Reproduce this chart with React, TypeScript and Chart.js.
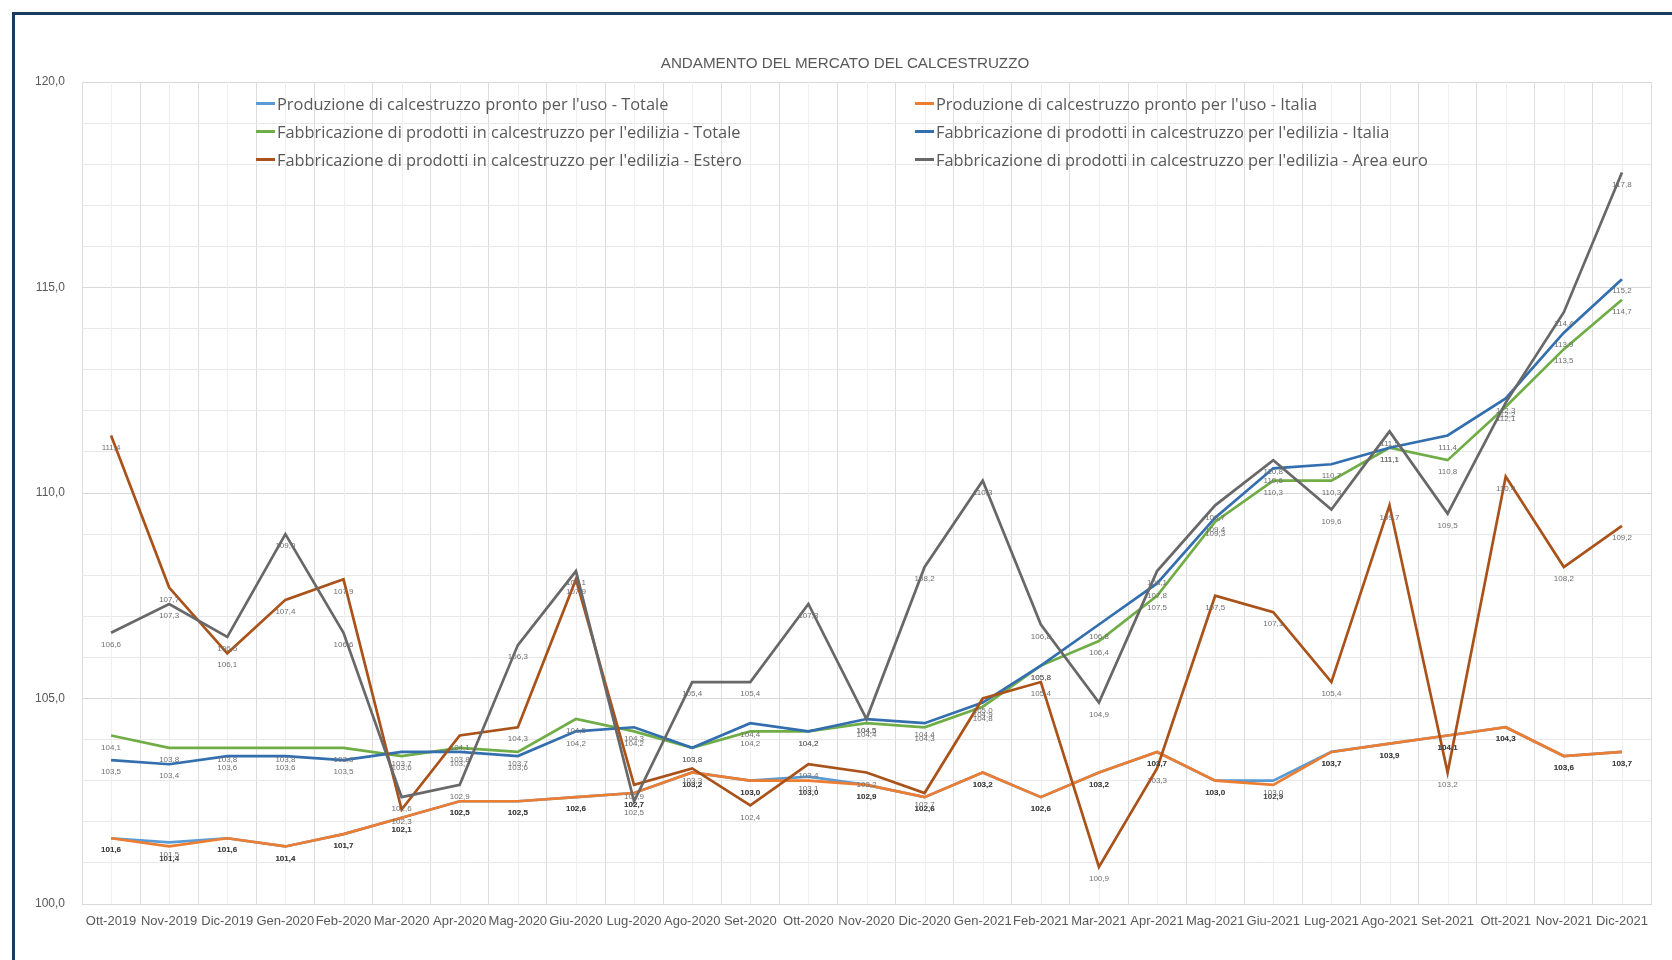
import React, { useEffect, useRef } from "react";
import { Chart, registerables } from "chart.js";

Chart.register(...registerables);

const TITLE = "ANDAMENTO DEL MERCATO DEL CALCESTRUZZO";

const CATEGORIES = [
  "Ott-2019", "Nov-2019", "Dic-2019", "Gen-2020", "Feb-2020", "Mar-2020", "Apr-2020",
  "Mag-2020", "Giu-2020", "Lug-2020", "Ago-2020", "Set-2020", "Ott-2020", "Nov-2020",
  "Dic-2020", "Gen-2021", "Feb-2021", "Mar-2021", "Apr-2021", "Mag-2021", "Giu-2021",
  "Lug-2021", "Ago-2021", "Set-2021", "Ott-2021", "Nov-2021", "Dic-2021",
];

const SERIES_NAMES = [
  "Produzione di calcestruzzo pronto per l'uso - Totale",
  "Produzione di calcestruzzo pronto per l'uso - Italia",
  "Fabbricazione di prodotti in calcestruzzo per l'edilizia - Totale",
  "Fabbricazione di prodotti in calcestruzzo per l'edilizia - Italia",
  "Fabbricazione di prodotti in calcestruzzo per l'edilizia - Estero",
  "Fabbricazione di prodotti in calcestruzzo per l'edilizia - Area euro",
];

const PRONTO_TOTALE = [
  101.6, 101.5, 101.6, 101.4, 101.7, 102.1, 102.5, 102.5, 102.6, 102.7, 103.2, 103.0, 103.1, 102.9,
  102.6, 103.2, 102.6, 103.2, 103.7, 103.0, 103.0, 103.7, 103.9, 104.1, 104.3, 103.6, 103.7,
];
const PRONTO_ITALIA = [
  101.6, 101.4, 101.6, 101.4, 101.7, 102.1, 102.5, 102.5, 102.6, 102.7, 103.2, 103.0, 103.0, 102.9,
  102.6, 103.2, 102.6, 103.2, 103.7, 103.0, 102.9, 103.7, 103.9, 104.1, 104.3, 103.6, 103.7,
];
const FABBR_TOTALE = [
  104.1, 103.8, 103.8, 103.8, 103.8, 103.6, 103.8, 103.7, 104.5, 104.2, 103.8, 104.2, 104.2, 104.4,
  104.3, 104.8, 105.8, 106.4, 107.5, 109.3, 110.3, 110.3, 111.1, 110.8, 112.1, 113.5, 114.7,
];
const FABBR_ITALIA = [
  103.5, 103.4, 103.6, 103.6, 103.5, 103.7, 103.7, 103.6, 104.2, 104.3, 103.8, 104.4, 104.2, 104.5,
  104.4, 104.9, 105.8, 106.8, 107.8, 109.4, 110.6, 110.7, 111.1, 111.4, 112.3, 113.9, 115.2,
];
const FABBR_ESTERO = [
  111.4, 107.7, 106.1, 107.4, 107.9, 102.3, 104.1, 104.3, 107.9, 102.9, 103.3, 102.4, 103.4, 103.2,
  102.7, 105.0, 105.4, 100.9, 103.3, 107.5, 107.1, 105.4, 109.7, 103.2, 110.4, 108.2, 109.2,
];
const FABBR_AREA_EURO = [
  106.6, 107.3, 106.5, 109.0, 106.6, 102.6, 102.9, 106.3, 108.1, 102.5, 105.4, 105.4, 107.3, 104.5,
  108.2, 110.3, 106.8, 104.9, 108.1, 109.7, 110.8, 109.6, 111.5, 109.5, 112.2, 114.4, 117.8,
];

const SERIES_VALUES = [
  PRONTO_TOTALE, PRONTO_ITALIA, FABBR_TOTALE, FABBR_ITALIA, FABBR_ESTERO, FABBR_AREA_EURO,
];
const SERIES_COLORS = ["#5B9BD5", "#ED7D31", "#70AD47", "#336FAE", "#A9521A", "#686868"];

const Y_MIN = 100;
const Y_MAX = 120;
const Y_STEP = 1;
const Y_LABEL_EVERY = 5;

const fmt = (v: number) => v.toFixed(1).replace(".", ",");

const centerGridPlugin = {
  id: "centerGrid",
  beforeDatasetsDraw(chart: any) {
    const { ctx, chartArea, scales } = chart;
    const xs = scales.x;
    ctx.save();
    ctx.strokeStyle = "#EFEFEF";
    ctx.lineWidth = 1;
    for (let i = 0; i < CATEGORIES.length; i++) {
      const x = Math.round(xs.getPixelForValue(i)) + 0.5;
      ctx.beginPath();
      ctx.moveTo(x, chartArea.top);
      ctx.lineTo(x, chartArea.bottom);
      ctx.stroke();
    }
    ctx.restore();
  },
};

const dataLabelPlugin = {
  id: "dataLabels",
  afterDatasetsDraw(chart: any) {
    const { ctx } = chart;
    ctx.save();
    ctx.textAlign = "center";
    ctx.textBaseline = "middle";
    chart.data.datasets.forEach((ds: any, di: number) => {
      const meta = chart.getDatasetMeta(di);
      const bold = di === 1;
      ctx.font = (bold ? "bold " : "") + "8px 'Liberation Sans', sans-serif";
      ctx.fillStyle = bold ? "#404040" : "#707070";
      meta.data.forEach((pt: any, i: number) => {
        const v = ds.data[i];
        ctx.fillText(fmt(v), pt.x, pt.y + 12);
      });
    });
    ctx.restore();
  },
};

export default function App() {
  const ref = useRef<HTMLCanvasElement>(null);

  useEffect(() => {
    document.body.style.overflow = "hidden";
    const datasets = SERIES_NAMES.map((name, i) => ({
      label: name,
      data: SERIES_VALUES[i],
      borderColor: SERIES_COLORS[i],
      backgroundColor: SERIES_COLORS[i],
      borderWidth: 2.7,
      pointRadius: 0,
      tension: 0,
      fill: false,
      order: SERIES_NAMES.length - i,
    }));
    const chart = new Chart(ref.current as HTMLCanvasElement, {
      type: "line",
      data: { labels: CATEGORIES, datasets },
      options: {
        animation: false,
        responsive: false,
        devicePixelRatio: 1,
        layout: { padding: { top: 82, right: 21, left: 0, bottom: 0 } },
        plugins: {
          legend: { display: false },
          title: { display: false },
          tooltip: { enabled: false },
        },
        scales: {
          x: {
            offset: true,
            grid: { offset: true, color: "#DCDCDC", drawTicks: false },
            border: { color: "#D9D9D9" },
            ticks: {
              color: "#595959",
              font: { family: "'Liberation Sans', sans-serif", size: 13 },
              padding: 10,
              maxRotation: 0,
              autoSkip: false,
            },
            afterFit: (s: any) => {
              s.height = 56;
            },
          },
          y: {
            min: Y_MIN,
            max: Y_MAX,
            ticks: {
              stepSize: Y_STEP,
              autoSkip: false,
              color: "#595959",
              font: { family: "'Liberation Sans', sans-serif", size: 12 },
              padding: 17,
              callback: (v: any) => (Number(v) % Y_LABEL_EVERY === 0 ? fmt(Number(v)) : ""),
            },
            grid: {
              drawTicks: false,
              color: (c: any) =>
                c.tick && c.tick.value % Y_LABEL_EVERY === 0 ? "#D9D9D9" : "#E8E8E8",
            },
            border: { display: false },
            afterFit: (s: any) => {
              s.width = 82;
            },
          },
        },
      },
      plugins: [centerGridPlugin, dataLabelPlugin],
    } as any);
    return () => chart.destroy();
  }, []);

  const legendRows = [
    [0, 1],
    [2, 3],
    [4, 5],
  ];
  const colX = [256, 915];
  const rowY = [103, 131, 159];

  return (
    <div>
      <div
        style={{
          position: "fixed",
          left: 12,
          top: 12,
          right: -20,
          bottom: -20,
          borderTop: "3px solid #1C3A5E",
          borderLeft: "3px solid #1C3A5E",
        }}
      />
      <canvas
        ref={ref}
        width={1672}
        height={960}
        style={{ position: "fixed", left: 0, top: 0, width: 1672, height: 960 }}
      />
      <div
        style={{
          position: "fixed",
          left: 845 - 300,
          width: 600,
          top: 63 - 10,
          height: 20,
          lineHeight: "20px",
          textAlign: "center",
          fontFamily: "'Liberation Sans', sans-serif",
          fontSize: 15.2,
          color: "#595959",
        }}
      >
        {TITLE}
      </div>
      {legendRows.map((row, r) =>
        row.map((si, c) => (
          <div
            key={si}
            style={{
              position: "fixed",
              left: colX[c],
              top: rowY[r] - 11,
              height: 22,
              display: "flex",
              alignItems: "center",
              whiteSpace: "nowrap",
              fontFamily: "'Open Sans', sans-serif",
              fontSize: 16.4,
              color: "#595959",
            }}
          >
            <span
              style={{
                display: "inline-block",
                width: 19,
                height: 3,
                background: SERIES_COLORS[si],
                marginRight: 2,
              }}
            />
            <span>{SERIES_NAMES[si]}</span>
          </div>
        ))
      )}
    </div>
  );
}
